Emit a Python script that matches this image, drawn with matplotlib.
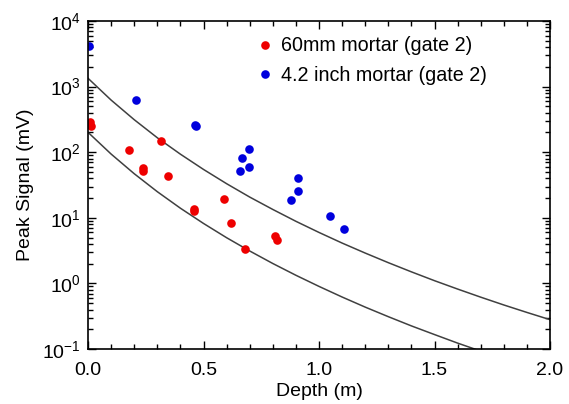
import numpy as np
import matplotlib.pyplot as plt
from matplotlib.ticker import MultipleLocator, LogLocator

plt.rcParams['font.family'] = ['Liberation Sans', 'DejaVu Sans']

# 60mm mortar, gate 2: depth (m), peak signal (mV)
depth_60mm = [0.01, 0.015, 0.177, 0.237, 0.237, 0.316, 0.348, 0.459, 0.459,
              0.589, 0.618, 0.68, 0.81, 0.82]
signal_60mm = [290, 250, 109, 57, 52, 147, 43, 13.5, 12.6,
               19.4, 8.4, 3.35, 5.3, 4.6]

# 4.2 inch mortar, gate 2
depth_42in = [0.005, 0.208, 0.463, 0.469, 0.658, 0.668, 0.698, 0.698,
              0.879, 0.909, 0.909, 1.049, 1.11]
signal_42in = [4200, 620, 260, 255, 52, 81, 59, 113,
               18.5, 26, 40, 10.8, 6.8]

# model envelope curves
curve_depth = [0.0, 0.1, 0.2, 0.3, 0.4, 0.5, 0.6, 0.7, 0.8, 0.9, 1.0,
               1.1, 1.2, 1.3, 1.4, 1.5, 1.6, 1.7, 1.8, 1.9, 2.0]
upper_curve = [1340, 623, 313, 166, 93.3, 54.6, 33.1, 20.7, 13.4, 8.84, 5.98,
               4.12, 2.90, 2.07, 1.50, 1.10, 0.82, 0.617, 0.469, 0.361, 0.280]
lower_curve = [201, 93.7, 47.0, 25.0, 14.0, 8.20, 4.97, 3.12, 2.01, 1.33, 0.90,
               0.62, 0.435, 0.311, 0.225, 0.166, 0.123, 0.0928]

fig = plt.figure(figsize=(5.69, 4.04), dpi=100)
ax = fig.add_axes([0.1547, 0.1361, 0.812, 0.8119])

ax.plot(curve_depth, upper_curve, color='#404040', lw=1.1)
ax.plot(curve_depth[:len(lower_curve)], lower_curve, color='#404040', lw=1.1)

ax.plot(depth_60mm, signal_60mm, 'o', color='#ee0000', ms=6.2, mec='none',
        label='60mm mortar (gate 2)')
ax.plot(depth_42in, signal_42in, 'o', color='#0000dd', ms=6.2, mec='none',
        label='4.2 inch mortar (gate 2)')

ax.set_yscale('log')
ax.set_xlim(0, 2.0)
ax.set_ylim(0.1, 1e4)
ax.xaxis.set_major_locator(MultipleLocator(0.5))
ax.xaxis.set_minor_locator(MultipleLocator(0.1))
ax.yaxis.set_major_locator(LogLocator(base=10, numticks=10))
ax.yaxis.set_minor_locator(LogLocator(base=10, subs=np.arange(2, 10), numticks=10))
ax.xaxis.set_major_formatter(plt.FormatStrFormatter('%.1f'))

ax.tick_params(which='both', direction='in', top=True, right=True,
               labelsize=14, width=1)
ax.tick_params(which='major', length=6)
ax.tick_params(which='minor', length=3.5)
ax.tick_params(axis='x', pad=9)
ax.tick_params(axis='y', pad=5)
for s in ax.spines.values():
    s.set_linewidth(1.2)

ax.set_xlabel('Depth (m)', fontsize=14, labelpad=3)
ax.set_ylabel('Peak Signal (mV)', fontsize=14, labelpad=6)

ax.legend(loc='upper left', bbox_to_anchor=(0.332, 0.995), frameon=False,
          fontsize=14.2, handletextpad=0.3, labelspacing=0.55, handlelength=1.0,
          borderpad=0.2)

fig.savefig('out.png', dpi=100)
